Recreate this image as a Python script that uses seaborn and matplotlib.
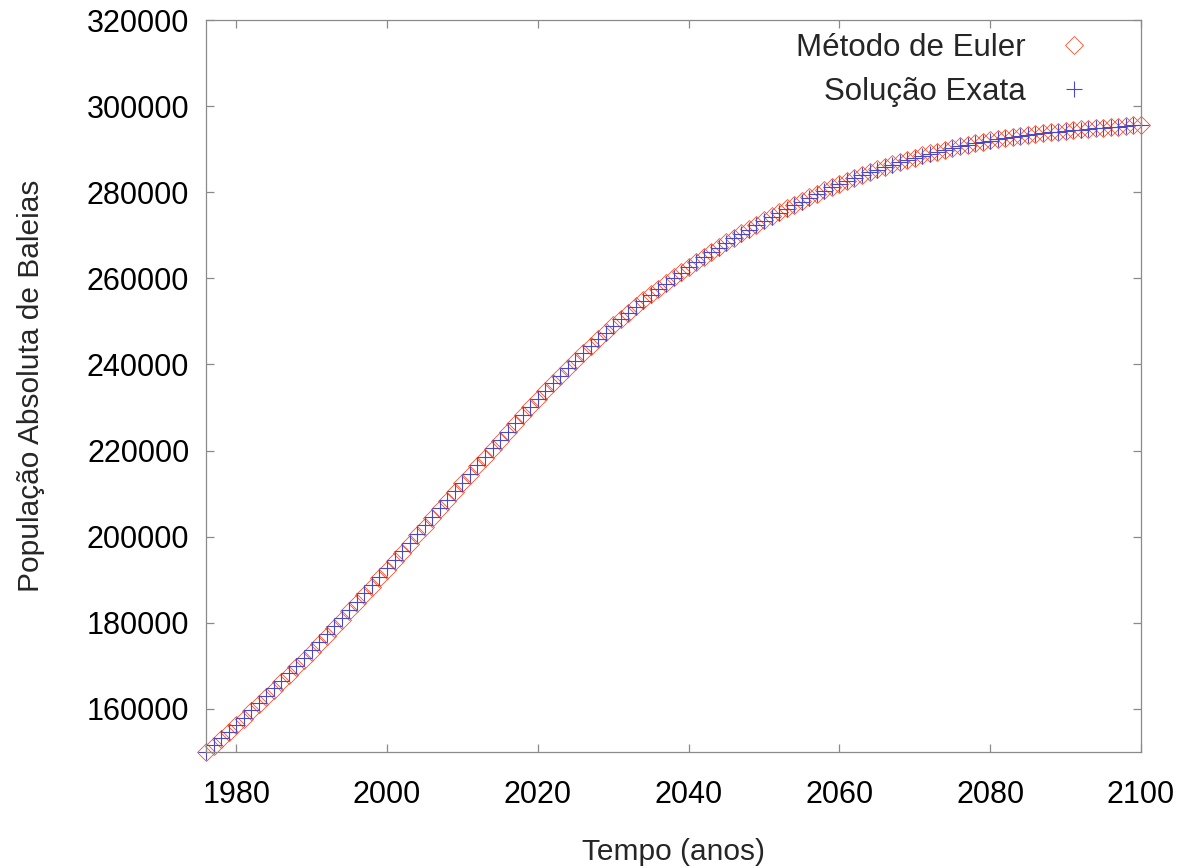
import matplotlib
matplotlib.use("Agg")
import matplotlib.pyplot as plt
import seaborn as sns
import pandas as pd

# ---- data ----
years = list(range(1976, 2101))

exact = [
    150000, 151560, 153140, 154740, 156360, 158000, 159660, 161340, 163040, 164760,
    166500, 168260, 170040, 171840, 173660, 175500, 177355, 179225, 181110, 183010,
    184922, 186846, 188782, 190730, 192690, 194660, 196638, 198623, 200613, 202607,
    204603, 206600, 208596, 210590, 212580, 214568, 216550, 218524, 220488, 222440,
    224378, 226300, 228204, 230088, 231950, 233788, 235600, 237384, 239138, 240860,
    242549, 244204, 245824, 247408, 248956, 250468, 251944, 253384, 254789, 256160,
    257498, 258804, 260079, 261324, 262540, 263728, 264889, 266024, 267134, 268220,
    269282, 270321, 271337, 272331, 273303, 274253, 275182, 276090, 276977, 277843,
    278689, 279515, 280321, 281108, 281876, 282606, 283306, 283978, 284623, 285243,
    285839, 286412, 286963, 287493, 288003, 288493, 288963, 289413, 289843, 290253,
    290643, 291013, 291363, 291693, 292003, 292293, 292565, 292821, 293061, 293287,
    293500, 293701, 293891, 294071, 294242, 294405, 294561, 294711, 294855, 294994,
    295128, 295258, 295384, 295506, 295624,
]

euler = [
    150000, 151500, 153030, 154590, 156170, 157780, 159410, 161060, 162740, 164440,
    166160, 167910, 169680, 171470, 173280, 175120, 176970, 178840, 180730, 182630,
    184550, 186480, 188420, 190380, 192350, 194330, 196320, 198320, 200320, 202330,
    204340, 206350, 208360, 210370, 212380, 214390, 216390, 218380, 220360, 222330,
    224290, 226230, 228150, 230050, 231930, 233780, 235600, 237400, 239170, 240910,
    242610, 244280, 245910, 247500, 249060, 250580, 252060, 253510, 254920, 256300,
    257640, 258950, 260230, 261480, 262700, 263890, 265050, 266190, 267300, 268390,
    269450, 270490, 271500, 272490, 273460, 274410, 275330, 276240, 277120, 277980,
    278820, 279640, 280440, 281220, 281980, 282700, 283400, 284060, 284700, 285320,
    285910, 286480, 287020, 287550, 288050, 288540, 289000, 289450, 289880, 290280,
    290670, 291040, 291380, 291710, 292020, 292310, 292580, 292830, 293070, 293300,
    293510, 293710, 293900, 294080, 294250, 294410, 294570, 294720, 294860, 295000,
    295130, 295260, 295390, 295510, 295630,
]

x_ticks = [1980, 2000, 2020, 2040, 2060, 2080, 2100]
y_ticks = [160000, 180000, 200000, 220000, 240000, 260000, 280000, 300000, 320000]
series_labels = ["Método de Euler", "Solução Exata"]
x_label = "Tempo (anos)"
y_label = "População Absoluta de Baleias"

# ---- style ----
sns.set_style("ticks")
plt.rcParams["font.family"] = ["Liberation Sans", "DejaVu Sans"]
FS_TICK = 22
FS_LAB = 21.5
FS_LEG = 22.5
frame_color = "#8a8a8a"
red = "#f4512f"
blue = "#4a4ac6"

fig = plt.figure(figsize=(11.9, 8.68), dpi=100)
ax = fig.add_axes([206 / 1190, 116 / 868, 935 / 1190, 732 / 868])

df = pd.DataFrame({"Ano": years, "Euler": euler, "Exata": exact})

sns.lineplot(data=df, x="Ano", y="Euler", ax=ax, linestyle="none",
             marker="D", markersize=9.5, markerfacecolor="none",
             markeredgecolor=red, markeredgewidth=0.6,
             color=red, label=series_labels[0], clip_on=False)
sns.lineplot(data=df, x="Ano", y="Exata", ax=ax, linestyle="none",
             marker="+", markersize=11.5, markeredgecolor=blue,
             markeredgewidth=0.8, color=blue,
             label=series_labels[1], clip_on=False)

ax.set_xlim(1976, 2100)
ax.set_ylim(150000, 320000)
ax.set_xticks(x_ticks, labels=[str(v) for v in x_ticks])
ax.set_yticks(y_ticks, labels=[str(v) for v in y_ticks])

for sp in ax.spines.values():
    sp.set_visible(True)
    sp.set_color(frame_color)
    sp.set_linewidth(0.9)

ax.tick_params(axis="both", direction="in", length=6, width=0.9,
               color=frame_color, labelcolor="black", labelsize=FS_TICK,
               top=True, right=True)
ax.tick_params(axis="x", pad=20)
ax.tick_params(axis="y", pad=12)

ax.set_xlabel(x_label, fontsize=FS_LAB, labelpad=20)
ax.set_ylabel(y_label, fontsize=FS_LAB, labelpad=30)

ax.legend(loc="upper right", bbox_to_anchor=(0.9455, 0.982),
          borderaxespad=0, borderpad=0, frameon=False, markerfirst=False,
          handlelength=1.0, handletextpad=1.05, labelspacing=0.45,
          fontsize=FS_LEG)

fig.savefig("out.png", dpi=100)
